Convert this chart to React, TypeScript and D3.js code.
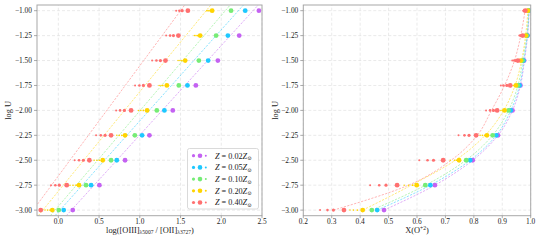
import React from "react";
import * as d3 from "d3";

const W = 540;
const H = 240;

const logU = [-3.0, -2.75, -2.5, -2.25, -2.0, -1.75, -1.5, -1.25, -1.0];
const yTicks = [-3.0, -2.75, -2.5, -2.25, -2.0, -1.75, -1.5, -1.25, -1.0];
const xTicksL = [0.0, 0.5, 1.0, 1.5, 2.0, 2.5];
const xTicksR = [0.2, 0.3, 0.4, 0.5, 0.6, 0.7, 0.8, 0.9, 1.0];

const seriesNames = ["0.02", "0.05", "0.10", "0.20", "0.40"];
const seriesColors = ["#c462f2", "#1ec8ff", "#76ec76", "#ffd400", "#ff7070"];

// left panel: log([OIII]/[OII]) main points
const purpleO3 = [0.177, 0.504, 0.819, 1.118, 1.405, 1.688, 1.958, 2.22, 2.462];
const cyanO3 = [0.066, 0.402, 0.717, 1.028, 1.302, 1.585, 1.839, 2.081, 2.294];
const greenO3 = [0.005, 0.34, 0.647, 0.939, 1.209, 1.479, 1.725, 1.937, 2.12];
const yellowO3 = [-0.074, 0.254, 0.545, 0.819, 1.09, 1.332, 1.557, 1.741, 1.888];
const redO3 = [-0.216, 0.103, 0.381, 0.647, 0.893, 1.118, 1.315, 1.474, 1.59];

const redO3s1 = [-0.41, -0.09, 0.201, 0.463, 0.709, 0.942, 1.151, 1.323, 1.446];
const redO3s2 = [-0.36, -0.037, 0.254, 0.521, 0.758, 0.995, 1.204, 1.372, 1.486];
const redO3s3 = [-0.31, 0.012, 0.307, 0.574, 0.811, 1.044, 1.253, 1.413, 1.52];
const yellowO3s1 = [-0.163, 0.144, 0.439, 0.717, 0.983, 1.237, 1.47, 1.67, 1.82];
const yellowO3s2 = [-0.133, 0.18, 0.472, 0.748, 1.013, 1.26, 1.493, 1.69, 1.835];
const yellowO3s3 = [-0.102, 0.217, 0.504, 0.779, 1.044, 1.282, 1.516, 1.71, 1.85];

// left panel fit lines: x at logU = -3 and logU = -1
const fitLogU = [-3.0, -1.0];
const purpleFit = [0.16, 2.39];
const cyanFit = [0.02, 2.21];
const greenFit = [-0.04, 2.05];
const yellowFit = [-0.19, 1.815];
const redFit = [-0.31, 1.5];

// right panel: X(O+2)
const purpleX = [0.484, 0.663, 0.796, 0.885, 0.936, 0.964, 0.977, 0.989, 0.995];
const cyanX = [0.46, 0.647, 0.787, 0.879, 0.93, 0.961, 0.975, 0.988, 0.994];
const greenX = [0.441, 0.629, 0.773, 0.866, 0.922, 0.955, 0.971, 0.986, 0.993];
const yellowX = [0.409, 0.599, 0.748, 0.846, 0.908, 0.948, 0.965, 0.983, 0.99];
const redX = [0.343, 0.53, 0.692, 0.808, 0.882, 0.928, 0.955, 0.972, 0.981];

const redXs1 = [0.259, 0.435, 0.608, 0.746, 0.843, 0.895, 0.935, 0.96, 0.974];
const redXs2 = [0.285, 0.467, 0.637, 0.767, 0.857, 0.904, 0.942, 0.964, 0.976];
const redXs3 = [0.306, 0.491, 0.658, 0.783, 0.869, 0.916, 0.948, 0.968, 0.978];
const yellowXs1 = [0.364, 0.555, 0.717, 0.822, 0.895, 0.938, 0.958, 0.977, 0.986];
const yellowXs2 = [0.376, 0.57, 0.732, 0.83, 0.9, 0.941, 0.96, 0.979, 0.987];
const yellowXs3 = [0.39, 0.585, 0.74, 0.838, 0.904, 0.944, 0.962, 0.981, 0.988];

// right panel model curves
const purpleCurve = [0.484, 0.663, 0.796, 0.885, 0.936, 0.964, 0.978, 0.989, 0.995];
const cyanCurve = [0.46, 0.647, 0.787, 0.879, 0.93, 0.961, 0.976, 0.988, 0.994];
const greenCurve = [0.441, 0.63, 0.772, 0.866, 0.922, 0.955, 0.972, 0.986, 0.993];
const yellowCurve = [0.409, 0.58, 0.735, 0.84, 0.905, 0.945, 0.968, 0.982, 0.99];
const redCurve = [0.306, 0.57, 0.72, 0.812, 0.862, 0.908, 0.943, 0.965, 0.98];

const BIG = 2.4;
const RED_SMALL = [1.0, 1.3, 1.6];
const YEL_SMALL = [0.75, 0.8, 0.85];

const FONT = "'Liberation Serif', 'DejaVu Serif', serif";

const yScale = d3.scaleLinear().domain([-3.056, -0.943]).range([215.7, 5]);
const xL = d3.scaleLinear().domain([-0.262, 2.5]).range([37, 262]);
const xR = d3.scaleLinear().domain([0.2, 1.0]).range([303.3, 530.7]);

const fmtY = (v: number) => (v < 0 ? "\u2212" : "") + Math.abs(v).toFixed(2);
const fmtX = (v: number) => v.toFixed(1);

type Sub = { xs: number[]; r: number };
type Ser = { color: string; main: number[]; subs: Sub[] };

const leftSeries: Ser[] = [
  { color: seriesColors[0], main: purpleO3, subs: [] },
  { color: seriesColors[1], main: cyanO3, subs: [] },
  { color: seriesColors[2], main: greenO3, subs: [] },
  {
    color: seriesColors[3],
    main: yellowO3,
    subs: [
      { xs: yellowO3s1, r: YEL_SMALL[0] },
      { xs: yellowO3s2, r: YEL_SMALL[1] },
      { xs: yellowO3s3, r: YEL_SMALL[2] },
    ],
  },
  {
    color: seriesColors[4],
    main: redO3,
    subs: [
      { xs: redO3s1, r: RED_SMALL[0] },
      { xs: redO3s2, r: RED_SMALL[1] },
      { xs: redO3s3, r: RED_SMALL[2] },
    ],
  },
];
const leftFits = [purpleFit, cyanFit, greenFit, yellowFit, redFit];

const rightSeries: Ser[] = [
  { color: seriesColors[0], main: purpleX, subs: [] },
  { color: seriesColors[1], main: cyanX, subs: [] },
  { color: seriesColors[2], main: greenX, subs: [] },
  {
    color: seriesColors[3],
    main: yellowX,
    subs: [
      { xs: yellowXs1, r: YEL_SMALL[0] },
      { xs: yellowXs2, r: YEL_SMALL[1] },
      { xs: yellowXs3, r: YEL_SMALL[2] },
    ],
  },
  {
    color: seriesColors[4],
    main: redX,
    subs: [
      { xs: redXs1, r: RED_SMALL[0] },
      { xs: redXs2, r: RED_SMALL[1] },
      { xs: redXs3, r: RED_SMALL[2] },
    ],
  },
];
const rightCurves = [purpleCurve, cyanCurve, greenCurve, yellowCurve, redCurve];

function Frame({
  x,
  xTicks,
  id,
}: {
  x: d3.ScaleLinear<number, number>;
  xTicks: number[];
  id: string;
}) {
  const [x0, x1] = x.range();
  const [y0, y1] = yScale.range();
  return (
    <g>
      <defs>
        <clipPath id={id}>
          <rect x={x0} y={y1} width={x1 - x0} height={y0 - y1} />
        </clipPath>
      </defs>
      <rect x={x0} y={y1} width={x1 - x0} height={y0 - y1} fill="white" />
      {xTicks.map((t) => (
        <line
          key={"gx" + t}
          x1={x(t)}
          x2={x(t)}
          y1={y0}
          y2={y1}
          stroke="#dcdcdc"
          strokeWidth={0.6}
          strokeDasharray="3,2"
        />
      ))}
      {yTicks.map((t) => (
        <line
          key={"gy" + t}
          x1={x0}
          x2={x1}
          y1={yScale(t)}
          y2={yScale(t)}
          stroke="#dcdcdc"
          strokeWidth={0.6}
          strokeDasharray="3,2"
        />
      ))}
    </g>
  );
}

function Axes({ x, xTicks, fmt }: { x: d3.ScaleLinear<number, number>; xTicks: number[]; fmt: (v: number) => string }) {
  const [x0, x1] = x.range();
  const [y0, y1] = yScale.range();
  return (
    <g fontFamily={FONT} fill="#222">
      <rect x={x0} y={y1} width={x1 - x0} height={y0 - y1} fill="none" stroke="#a8a8a8" strokeWidth={1} />
      {xTicks.map((t) => (
        <g key={"tx" + t}>
          <line x1={x(t)} x2={x(t)} y1={y0} y2={y0 + 2.5} stroke="#888" strokeWidth={0.7} />
          <text x={x(t)} y={y0 + 7.9} fontSize={7.4} textAnchor="middle">
            {fmt(t)}
          </text>
        </g>
      ))}
      {yTicks.map((t) => (
        <g key={"ty" + t}>
          <line x1={x0 - 3} x2={x0} y1={yScale(t)} y2={yScale(t)} stroke="#888" strokeWidth={0.7} />
          <text x={x0 - 5} y={yScale(t) + 2.5} fontSize={7.4} textAnchor="end">
            {fmtY(t)}
          </text>
        </g>
      ))}
    </g>
  );
}

function Points({ series, x, clip }: { series: Ser[]; x: d3.ScaleLinear<number, number>; clip: string }) {
  return (
    <g clipPath={`url(#${clip})`}>
      {series.map((s, si) => (
        <g key={si} fill={s.color}>
          {s.subs.map((sub, k) =>
            sub.xs.map((v, i) => <circle key={`s${k}-${i}`} cx={x(v)} cy={yScale(logU[i])} r={sub.r} />)
          )}
          {s.main.map((v, i) => (
            <circle key={"m" + i} cx={x(v)} cy={yScale(logU[i])} r={BIG} />
          ))}
        </g>
      ))}
    </g>
  );
}

export default function App() {
  const yDom = yScale.domain();
  const fitLine = (f: number[]) => {
    const slope = (f[1] - f[0]) / (fitLogU[1] - fitLogU[0]);
    const at = (u: number) => f[0] + slope * (u - fitLogU[0]);
    return d3.line<number>().x((u) => xL(at(u))).y((u) => yScale(u))(yDom);
  };
  const curve = d3
    .line<number>()
    .x((v) => xR(v))
    .y((_, i) => yScale(logU[i]))
    .curve(d3.curveMonotoneY);

  return (
    <svg width={W} height={H} style={{ position: "absolute", left: 0, top: 0, background: "white" }}>
      <Frame x={xL} xTicks={xTicksL} id="clipL" />
      <Frame x={xR} xTicks={xTicksR} id="clipR" />

      <g clipPath="url(#clipL)">
        {leftFits.map((f, i) => (
          <path
            key={i}
            d={fitLine(f) || ""}
            fill="none"
            stroke={seriesColors[i]}
            strokeOpacity={0.65}
            strokeWidth={0.8}
            strokeDasharray="2.2,1.4"
          />
        ))}
      </g>
      <g clipPath="url(#clipR)">
        {rightCurves.map((c, i) => (
          <path
            key={i}
            d={curve(c) || ""}
            fill="none"
            stroke={seriesColors[i]}
            strokeOpacity={0.65}
            strokeWidth={0.8}
            strokeDasharray="2.2,1.4"
          />
        ))}
      </g>

      <Points series={leftSeries} x={xL} clip="clipL" />
      <Points series={rightSeries} x={xR} clip="clipR" />

      <Axes x={xL} xTicks={xTicksL} fmt={fmtX} />
      <Axes x={xR} xTicks={xTicksR} fmt={fmtX} />

      {/* legend */}
      <g fontFamily={FONT} fill="#222">
        <rect x={187.5} y={148.5} width={71} height={60.5} rx={2} fill="white" fillOpacity={0.85} stroke="#d0d0d0" strokeWidth={0.8} />
        {seriesNames.map((n, i) => {
          const yy = 155.7 + i * 11.7;
          return (
            <g key={n}>
              <circle cx={193.5} cy={yy} r={1.6} fill={seriesColors[i]} />
              <circle cx={200} cy={yy} r={2.3} fill={seriesColors[i]} />
              <circle cx={205.8} cy={yy} r={1.0} fill={seriesColors[i]} />
              <text x={215} y={yy + 2.8} fontSize={8.2}>
                <tspan fontStyle="italic">Z</tspan>
                {" = " + n}
                <tspan fontStyle="italic">Z</tspan>
                <tspan fontSize={5.4} dy={1.8}>{"\u2299"}</tspan>
              </text>
            </g>
          );
        })}
      </g>

      {/* axis labels */}
      <g fontFamily={FONT} fill="#222">
        <text x={150} y={232.5} fontSize={8.4} textAnchor="middle">
          log([OIII]
          <tspan fontSize={5.6} dy={1.8}>{"\u03bb5007"}</tspan>
          <tspan dy={-1.8}>{" / [OII]"}</tspan>
          <tspan fontSize={5.6} dy={1.8}>{"\u03bb3727"}</tspan>
          <tspan dy={-1.8}>)</tspan>
        </text>
        <text x={417} y={232.5} fontSize={8.4} textAnchor="middle">
          X(O
          <tspan fontSize={5.6} dy={-3}>+2</tspan>
          <tspan dy={3}>)</tspan>
        </text>
        <text transform={`translate(11,${yScale(-2.0)}) rotate(-90)`} fontSize={8.4} textAnchor="middle">
          log U
        </text>
        <text transform={`translate(278,${yScale(-2.0)}) rotate(-90)`} fontSize={8.4} textAnchor="middle">
          log U
        </text>
      </g>
    </svg>
  );
}
